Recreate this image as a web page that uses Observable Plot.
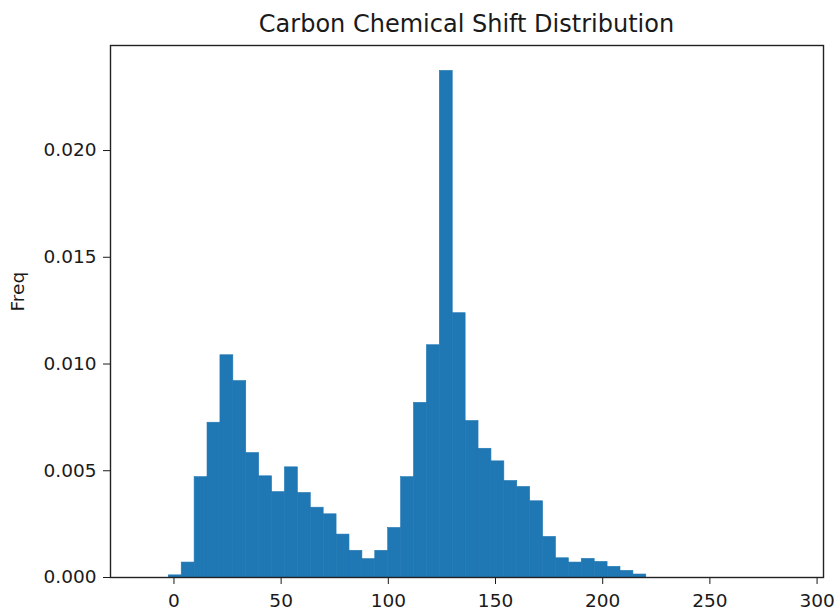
<!DOCTYPE html>
<html>
<head>
<meta charset="utf-8">
<script src="https://cdn.jsdelivr.net/npm/d3@7"></script>
<script src="https://cdn.jsdelivr.net/npm/@observablehq/plot@0.6"></script>
<style>
  body { margin: 0; background: #fff; font-family: "DejaVu Sans", sans-serif; }
  #wrap { position: relative; width: 838px; height: 612px; }
  #title { position: absolute; left: 110px; width: 713px; top: 12px; text-align: center;
           font-size: 24px; line-height: 24px; color: #1a1a1a; font-family: "DejaVu Sans", sans-serif; }
</style>
</head>
<body>
<div id="wrap">
  <div id="title">Carbon Chemical Shift Distribution</div>
  <div id="chart"></div>
</div>
<script>
// Bin edges (ppm)
const binEdges = [-2.40, 3.62, 9.64, 15.66, 21.68, 27.70, 33.72, 39.74, 45.76, 51.78,
  57.80, 63.82, 69.84, 75.86, 81.88, 87.90, 93.92, 99.94, 105.96, 111.98,
  118.00, 124.02, 130.04, 136.06, 142.08, 148.10, 154.12, 160.14, 166.16, 172.18,
  178.20, 184.22, 190.24, 196.26, 202.28, 208.30, 214.32, 220.34];
// Frequency (density) of each bin
const freqs = [0.0001, 0.0007, 0.0047, 0.00725, 0.01041, 0.0092, 0.00583, 0.00474, 0.0040, 0.00516,
  0.00396, 0.00327, 0.00296, 0.00201, 0.00125, 0.00086, 0.00125, 0.00232, 0.0047, 0.00818,
  0.01088, 0.02373, 0.01238, 0.00733, 0.00603, 0.00544, 0.00452, 0.00424, 0.00357, 0.0019,
  0.0009, 0.0007, 0.00087, 0.00073, 0.0005, 0.00031, 0.00014];
const xTicks = [0, 50, 100, 150, 200, 250, 300];
const yTicks = [0, 0.005, 0.010, 0.015, 0.020];
const yLabel = "Freq";

const bins = freqs.map((f, i) => ({x1: binEdges[i], x2: binEdges[i + 1], y: f}));

const chart = Plot.plot({
  width: 838,
  height: 612,
  marginLeft: 110,
  marginRight: 15,
  marginTop: 45,
  marginBottom: 35,
  style: {fontFamily: "DejaVu Sans, sans-serif", fontSize: "18.5px", background: "#fff", color: "#1a1a1a"},
  x: {domain: [-29.6, 303], ticks: xTicks},
  y: {domain: [0, 0.02492], ticks: yTicks},
  marks: [
    Plot.rectY(bins, {x1: "x1", x2: "x2", y: "y", fill: "#1f77b4", stroke: "#1f77b4", strokeWidth: 0.6, inset: 0}),
    Plot.axisX({ticks: xTicks, tickSize: 7, tickPadding: 9, label: null, fontSize: 18.5}),
    Plot.axisY({ticks: yTicks, tickSize: 7, tickPadding: 7, tickFormat: d3.format(".3f"), label: null, fontSize: 18.5}),
    Plot.text([yLabel], {frameAnchor: "left", rotate: -90, dx: -92, fontSize: 18.5, fill: "#1a1a1a"}),
    Plot.frame({stroke: "#222", strokeWidth: 1.4})
  ]
});
document.getElementById("chart").appendChild(chart);
</script>
</body>
</html>
